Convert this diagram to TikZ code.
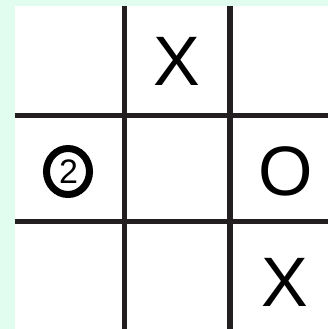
\documentclass[tikz,border=0pt]{standalone}
\usepackage{fontspec}
\setmainfont{Liberation Sans}
\definecolor{bgmint}{HTML}{E0FDF0}
\definecolor{gridline}{HTML}{231F20}
\begin{document}
\begin{tikzpicture}[x=1pt,y=-1pt,
  gridstroke/.style={draw=gridline,line width=5.8pt},
  bigmark/.style={inner sep=0pt,font=\fontsize{70}{70}\selectfont,text=black},
  smallmark/.style={inner sep=0pt,font=\fontsize{34}{34}\selectfont,text=black}]
\fill[bgmint] (0,0) rectangle (328,329);
\useasboundingbox (0,0) rectangle (328,329);
\fill[white] (15,6) rectangle (328,329);
\coordinate (v1t) at (124.5,6);   \coordinate (v1b) at (124.5,329);
\coordinate (v2t) at (230,6);     \coordinate (v2b) at (230,329);
\coordinate (h1l) at (15,115.5);  \coordinate (h1r) at (328,115.5);
\coordinate (h2l) at (15,221.5);  \coordinate (h2r) at (328,221.5);
\draw[gridstroke] (v1t) -- (v1b);
\draw[gridstroke] (v2t) -- (v2b);
\draw[gridstroke] (h1l) -- (h1r);
\draw[gridstroke] (h2l) -- (h2r);
\node[bigmark] (x1) at (177,61) {X};
\node[bigmark] (o1) at (286,171) {O};
\node[bigmark] (x2) at (285,282.5) {X};
\coordinate (c2) at (68,171.5);
\draw[black,line width=7pt] (c2) ellipse [x radius=21.5, y radius=23];
\node[smallmark] (two) at (68.5,171.5) {2};
\end{tikzpicture}
\end{document}
